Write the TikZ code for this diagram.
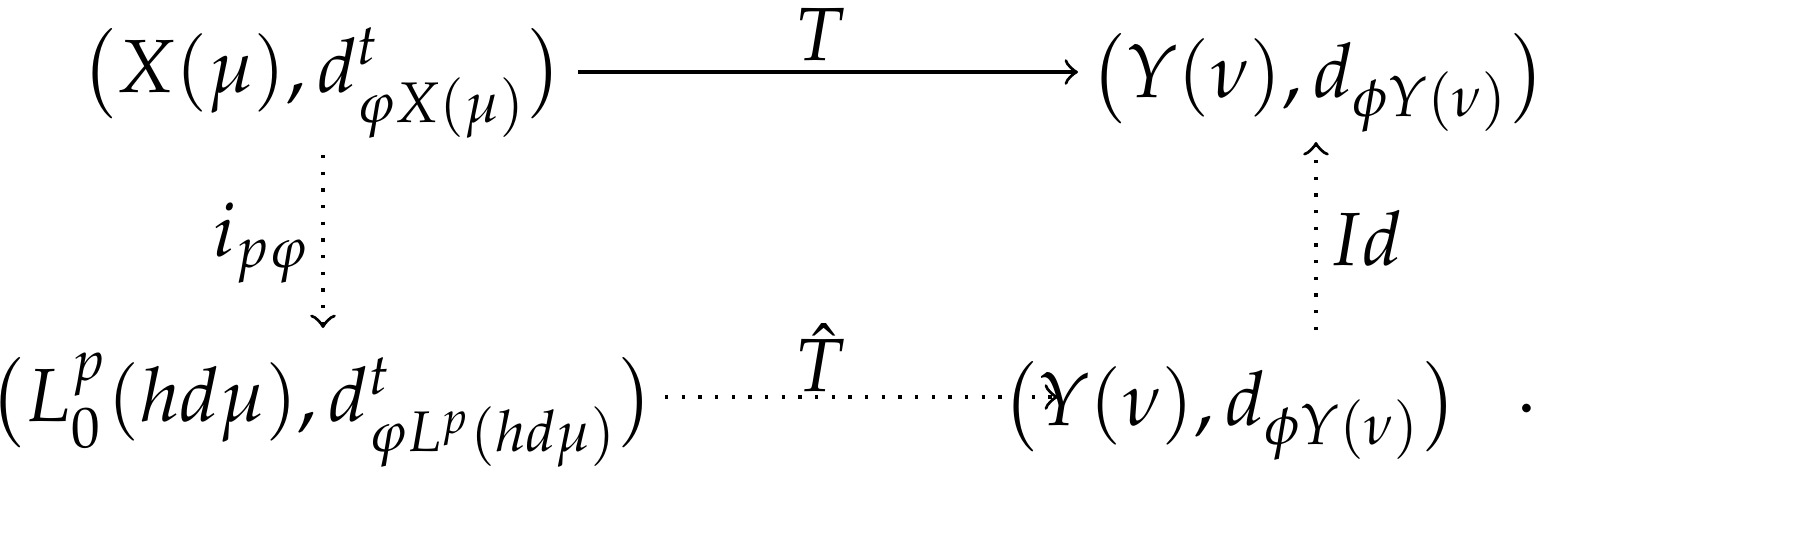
\documentclass[tikz,border=0pt]{standalone}
\usepackage{mathpazo}
\begin{document}
\begin{tikzpicture}[x=0.15pt,y=0.15pt,
  font=\fontsize{11.3}{13}\selectfont,
  lab/.style={inner sep=0pt},
  obj/.style={inner sep=0pt},
  arr/.style={->,line width=0.5pt},
  darr/.style={->,dotted,line width=0.5pt}]
\path[use as bounding box] (0,0) rectangle (1806,538);
\node[obj] (tl) at (322,456) {$\big(X(\mu),d^t_{\varphi X(\mu)}\big)$};
\node[obj] (tr) at (1318,456) {$\big(Y(\nu),d_{\phi Y(\nu)}\big)$};
\node[obj] (bl) at (322,128) {$\big(L^p_0(hd\mu),d^t_{\varphi L^p(hd\mu)}\big)$};
\node[obj] (br) at (1230,128) {$\big(Y(\nu),d_{\phi Y(\nu)}\big)$};
\node[obj] (dot) at (1527,130) {$.$};
\coordinate (a1) at (578,466); \coordinate (a2) at (1078,466);
\coordinate (b1) at (665,141); \coordinate (b2) at (1058,141);
\coordinate (l1) at (323,383); \coordinate (l2) at (323,210);
\coordinate (r1) at (1316,208); \coordinate (r2) at (1316,396);
\draw[arr] (a1) -- (a2);
\node[lab] (tlab) at (820,503) {$T$};
\draw[darr] (b1) -- (b2);
\node[lab] (blab) at (820,180) {$\hat T$};
\draw[darr] (l1) -- (l2);
\node[lab] (llab) at (262,295) {$i_{p\varphi}$};
\draw[darr] (r1) -- (r2);
\node[lab] (rlab) at (1365,300) {$Id$};
\end{tikzpicture}
\end{document}
